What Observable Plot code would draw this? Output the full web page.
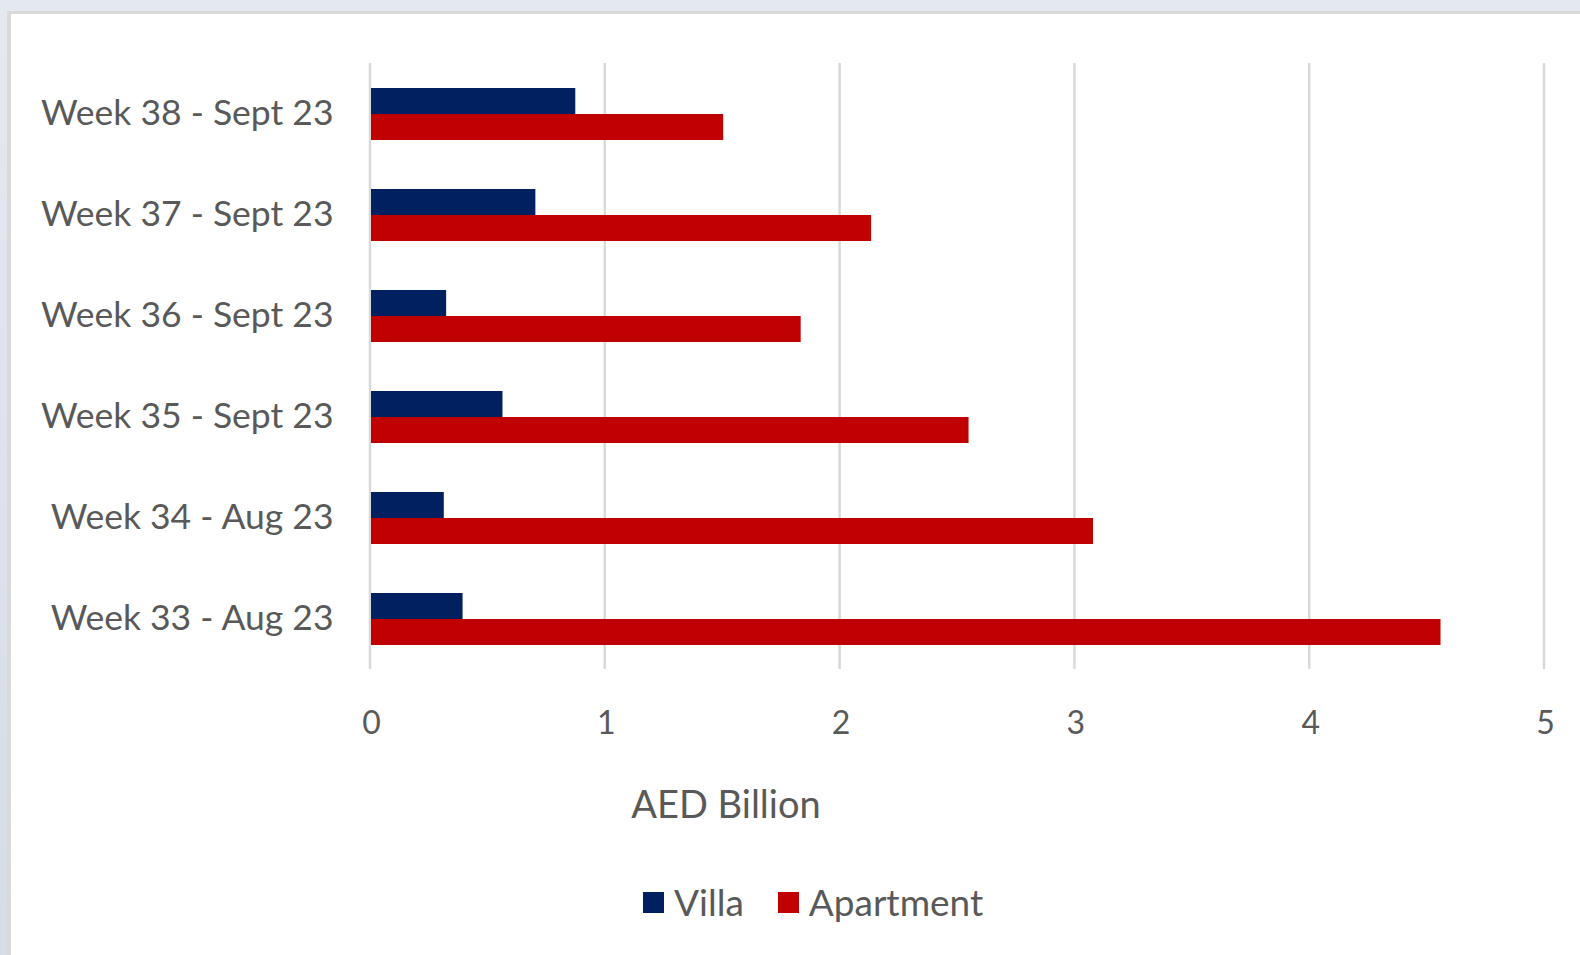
<!DOCTYPE html>
<html>
<head>
<meta charset="utf-8">
<script src="https://cdn.jsdelivr.net/npm/d3@7"></script>
<script src="https://cdn.jsdelivr.net/npm/@observablehq/plot@0.6"></script>
<style>
  html, body { margin: 0; padding: 0; }
  body { width: 1580px; height: 955px; overflow: hidden; position: relative;
         background: linear-gradient(180deg, #e4e8f1 0%, #d6dce8 100%); font-family: Lato, "Open Sans", sans-serif; }
  #panel { position: absolute; left: 7px; top: 11px; right: 0; bottom: 0; background: #fff;
           border-left: 4px solid #d9d9d9; border-top: 3px solid #d9d9d9; }
  #chart { position: absolute; left: 0; top: 0; }
  #chart svg { overflow: visible; }
  #chart g[aria-label^="fy-axis"] text { font-size: 35.5px; }
  #xtitle { position: absolute; top: 781px; left: 526px; width: 400px; text-align: center;
            font-size: 38px; color: #595959; line-height: 44px; }
  #legend { position: absolute; top: 882px; left: 643px; display: flex; align-items: center;
            font-size: 37px; color: #595959; line-height: 40px; }
  #legend .sw { width: 21px; height: 21px; display: inline-block; margin-right: 10px; }
  #legend .item { display: flex; align-items: center; margin-right: 34px; }
</style>
</head>
<body>
<div id="panel"></div>
<div id="chart"></div>
<div id="xtitle">AED Billion</div>
<div id="legend"></div>
<script>
const weeks = ["Week 38 - Sept 23", "Week 37 - Sept 23", "Week 36 - Sept 23", "Week 35 - Sept 23", "Week 34 - Aug 23", "Week 33 - Aug 23"];
const series = ["Villa", "Apartment"];
const villa = [0.87, 0.70, 0.32, 0.56, 0.31, 0.39];
const apartment = [1.50, 2.13, 1.83, 2.545, 3.075, 4.555];
const colors = ["#002060", "#c00000"];
const xTicks = [0, 1, 2, 3, 4, 5];

const data = [];
weeks.forEach((w, i) => {
  data.push({week: w, series: "Villa", value: villa[i]});
  data.push({week: w, series: "Apartment", value: apartment[i]});
});

const chart = Plot.plot({
  width: 1580,
  height: 840,
  marginLeft: 371,
  marginRight: 35,
  marginTop: 60,
  marginBottom: 169,
  style: {background: "transparent", fontFamily: "Lato, 'Open Sans', sans-serif", fontSize: "32px", color: "#595959", overflow: "visible"},
  x: {domain: [0, 5], ticks: xTicks, tickFormat: d => String(d), tickSize: 0, tickPadding: 42, label: null},
  y: {domain: series, paddingInner: 0, paddingOuter: 0.92, axis: null},
  fy: {domain: weeks, padding: 0, axis: "left", tickSize: 0, tickPadding: 38, label: null},
  color: {domain: series, range: colors},
  marks: [
    Plot.ruleX(xTicks, {stroke: "#d9d9d9", strokeWidth: 2.5, dx: -1.5}),
    Plot.barX(data, {x: "value", y: "series", fy: "week", fill: "series"})
  ]
});
document.getElementById("chart").appendChild(chart);

const legend = document.getElementById("legend");
series.forEach((s, i) => {
  const item = document.createElement("span");
  item.className = "item";
  const sw = document.createElement("span");
  sw.className = "sw";
  sw.style.background = colors[i];
  item.appendChild(sw);
  item.appendChild(document.createTextNode(s));
  legend.appendChild(item);
});
</script>
</body>
</html>
